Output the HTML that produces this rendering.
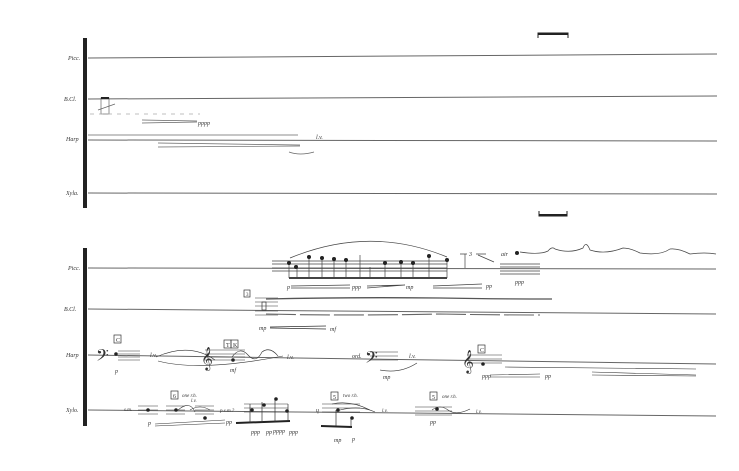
<!DOCTYPE html>
<html><head><meta charset="utf-8"><style>
html,body{margin:0;padding:0;background:#fff;width:739px;height:471px;overflow:hidden}
svg text{font-family:"Liberation Serif",serif;fill:#333}
</style></head><body>
<svg width="739" height="471" viewBox="0 0 739 471" xmlns="http://www.w3.org/2000/svg">
<g stroke="#666" stroke-width="1" fill="none">
<line x1="88" y1="58" x2="717" y2="54"/>
<line x1="88" y1="99" x2="717" y2="96"/>
<line x1="88" y1="140" x2="717" y2="141"/>
<line x1="88" y1="193" x2="717" y2="194"/>
<line x1="88" y1="268" x2="716" y2="269"/>
<line x1="88" y1="309" x2="716" y2="314"/>
<line x1="88" y1="355" x2="716" y2="364"/>
<line x1="88" y1="410" x2="716" y2="416"/>
</g>
<rect x="83" y="38" width="4" height="170" fill="#222"/>
<rect x="83" y="248" width="4" height="178" fill="#222"/>
<g font-size="6" font-style="italic">
<text x="68" y="60">Picc.</text><text x="64" y="101">B.Cl.</text><text x="66" y="141">Harp</text><text x="66" y="195">Xyla.</text>
<text x="68" y="270">Picc.</text><text x="64" y="311">B.Cl.</text><text x="66" y="357">Harp</text><text x="66" y="412">Xylo.</text>
</g>
<g stroke="#222" fill="none"><path d="M538 38V33H568V38" stroke-width="1"/><line x1="538" y1="34" x2="568" y2="34" stroke-width="2"/>
<path d="M539 211V216H567V211"/><line x1="539" y1="215" x2="567" y2="215" stroke-width="2"/></g>
<g stroke="#666" fill="none" stroke-width="0.7">
<rect x="101" y="98" width="8" height="16"/><line x1="101" y1="98" x2="109" y2="98" stroke-width="2" stroke="#222"/>
<line x1="98" y1="110" x2="115" y2="104"/>
<path d="M90 114H200" stroke-dasharray="4 5" stroke="#aaa"/>
<path d="M142 120L197 121 M142 123L197 122"/>
<line x1="88" y1="135" x2="298" y2="135"/>
<path d="M158 143L300 145 M158 147L300 146"/>
<path d="M289 152Q300 156 314 152"/>
</g>
<text x="198" y="125" font-size="6" font-style="italic">pppp</text>
<text x="316" y="139" font-size="6" font-style="italic">l.v.</text>
<g stroke="#444" fill="none" stroke-width="0.7">
<path d="M272 261H447 M272 264H447 M272 268H447 M272 271H447"/>
<path d="M290 258Q370 225 447 257"/>
<line x1="289" y1="278" x2="447" y2="278" stroke-width="2"/>
<path d="M289 262V278 M297 265V278 M309 256V278 M322 258V278 M334 259V278 M346 260V278 M360 255V278 M370 267V278 M385 262V278 M401 262V278 M413 262V278 M429 255V278 M447 260V278"/>
<path d="M291 286L350 285 M291 288L350 288 M367 286L405 285 M367 288L405 285 M433 286L482 284 M433 288L482 288"/>
<path d="M460 254H467 M476 254H486 M465 254V268 M478 255L494 262"/>
<path d="M500 264H540 M500 267H540 M500 271H540 M500 274H540"/>
<path d="M520 252Q540 255 548 251Q552 246 555 249Q570 254 583 248Q586 240 590 250Q605 255 623 248Q630 248 640 253Q660 256 670 249Q678 248 690 254Q705 252 716 254"/>
</g>
<g fill="#222"><circle cx="289" cy="263" r="2"/><circle cx="296" cy="267" r="2"/><circle cx="309" cy="257" r="2"/><circle cx="322" cy="258" r="2"/><circle cx="334" cy="259" r="2"/><circle cx="346" cy="260" r="2"/><circle cx="385" cy="263" r="2"/><circle cx="401" cy="262" r="2"/><circle cx="413" cy="263" r="2"/><circle cx="429" cy="256" r="2"/><circle cx="447" cy="260" r="2"/><circle cx="517" cy="253" r="2"/></g>
<g font-size="6" font-style="italic"><text x="287" y="289">p</text><text x="352" y="289">ppp</text><text x="406" y="289">mp</text><text x="486" y="288">pp</text><text x="469" y="256">3</text><text x="501" y="256">air</text><text x="515" y="284">ppp</text></g>
<g stroke="#333" fill="none">
<path d="M255 298H278 M255 302H278 M255 306H278 M255 311H278 M255 315H278" stroke-width="0.6"/>
<rect x="262" y="302" width="4" height="8" stroke-width="0.7"/>
<path d="M266 299Q350 297 440 298Q490 299 552 299" stroke-width="1.3" stroke="#555"/>
<path d="M266 314Q350 316 440 314Q490 315 540 315" stroke-width="1.1" stroke="#666" stroke-dasharray="30 4"/>
<path d="M270 327L326 326 M270 328L326 329" stroke-width="0.7"/>
</g>
<rect x="244" y="290" width="6" height="7" fill="none" stroke="#333" stroke-width="0.7"/><text x="246" y="296" font-size="5">3</text>
<g font-size="6" font-style="italic"><text x="259" y="330">mp</text><text x="330" y="331">mf</text></g>
<g stroke="#333" fill="none" stroke-width="0.6">
<path d="M118 351H140 M118 354H140 M118 357H140 M118 360H140"/>
<path d="M205 350H245 M205 354H245 M205 357H245 M205 360H245"/>
<path d="M232 357Q240 346 248 355Q256 364 262 352Q270 346 278 356"/>
<path d="M156 357Q190 342 215 360"/>
<path d="M158 361Q200 372 283 356" />
<path d="M370 352H398 M370 356H398 M370 360H398"/>
<path d="M380 370Q400 374 417 363"/>
<path d="M467 355H502 M467 359H502 M467 363H502"/>
<path d="M490 375L540 374 M490 377L540 377 M592 372L696 375 M592 375L696 376"/>
<line x1="505" y1="367" x2="696" y2="369"/>
</g>
<g font-size="20" fill="#333"><text x="96" y="364">𝄢</text><text x="201" y="365">𝄞</text><text x="365" y="366">𝄢</text><text x="462" y="368">𝄞</text></g>
<g stroke="#333" fill="none" stroke-width="0.7"><rect x="114" y="335" width="7" height="8"/><rect x="224" y="340" width="7" height="8"/><rect x="231" y="340" width="7" height="8"/><rect x="478" y="345" width="7" height="8"/></g>
<g font-size="6"><text x="116" y="342">C</text><text x="226" y="347">T</text><text x="233" y="347">K</text><text x="480" y="352">C</text></g>
<g font-size="6" font-style="italic"><text x="150" y="357">l.v.</text><text x="287" y="359">l.v.</text><text x="352" y="358">ord.</text><text x="409" y="358">l.v.</text><text x="115" y="373">p</text><text x="230" y="372">mf</text><text x="383" y="379">mp</text><text x="482" y="378">ppp</text><text x="545" y="378">pp</text></g>
<g fill="#222"><circle cx="116" cy="354" r="1.8"/><circle cx="233" cy="360" r="1.8"/><circle cx="483" cy="364" r="1.8"/></g>
<g stroke="#333" fill="none" stroke-width="0.6">
<path d="M138 406H158 M138 410H158 M138 414H158"/>
<path d="M166 406H185 M166 410H185 M166 414H185"/>
<path d="M195 406H214 M195 410H214 M195 414H214"/>
<path d="M244 404H288 M244 408H288 M244 412H288"/>
<path d="M322 404H360 M322 408H360 M322 412H360"/>
<path d="M415 407H452 M415 411H452 M415 415H452"/>
<path d="M178 410Q190 400 195 412 M190 410Q200 404 210 410"/>
<path d="M432 410Q440 404 448 410Q456 416 470 409"/>
<path d="M332 404Q350 400 370 410 M340 410Q360 405 375 412"/>
<path d="M155 424L225 420 M155 426L225 423"/>
</g>
<line x1="236" y1="423" x2="290" y2="421" stroke="#222" stroke-width="2"/>
<line x1="321" y1="426" x2="352" y2="427" stroke="#222" stroke-width="2"/>
<g stroke="#333" stroke-width="0.7"><path d="M250 404V423 M262 402V423 M275 398V422 M288 404V421 M336 410V426 M351 418V427"/></g>
<g fill="#222"><circle cx="148" cy="410" r="1.8"/><circle cx="176" cy="410" r="1.8"/><circle cx="205" cy="418" r="1.8"/><circle cx="252" cy="410" r="1.8"/><circle cx="264" cy="405" r="1.8"/><circle cx="276" cy="399" r="1.8"/><circle cx="287" cy="411" r="1.8"/><circle cx="338" cy="410" r="1.8"/><circle cx="352" cy="418" r="1.8"/><circle cx="437" cy="409" r="1.8"/></g>
<g stroke="#333" fill="none" stroke-width="0.7"><rect x="171" y="391" width="7" height="8"/><rect x="331" y="392" width="7" height="8"/><rect x="430" y="392" width="7" height="8"/></g>
<g font-size="6"><text x="173" y="398">6</text><text x="333" y="399">5</text><text x="432" y="399">5</text></g>
<g font-size="5" font-style="italic"><text x="124" y="411">s.m.</text><text x="220" y="412">p.s.m.?</text><text x="182" y="397">one r.h.</text><text x="343" y="397">two r.h.</text><text x="442" y="398">one r.h.</text><text x="191" y="402">l.v.</text><text x="382" y="412">l.v.</text><text x="476" y="413">l.v.</text></g>
<g font-size="6" font-style="italic"><text x="148" y="425">p</text><text x="226" y="424">pp</text><text x="251" y="434">ppp</text><text x="266" y="434">pp</text><text x="273" y="433">pppp</text><text x="289" y="434">ppp</text><text x="334" y="442">mp</text><text x="352" y="441">p</text><text x="430" y="424">pp</text><text x="316" y="412">ɥ</text></g>
</svg>
</body></html>
